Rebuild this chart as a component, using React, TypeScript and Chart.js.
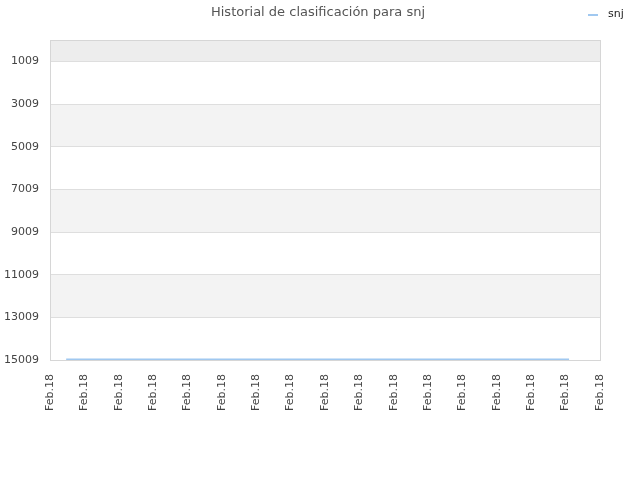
import { useEffect, useRef } from 'react'
import { Chart, registerables } from 'chart.js'

Chart.register(...registerables)

const TITLE = 'Historial de clasificación para snj'
const SERIES_LABEL = 'snj'

// x axis tick labels (one per tick, 0..16)
const xTickLabels = [
  'Feb.18', 'Feb.18', 'Feb.18', 'Feb.18', 'Feb.18', 'Feb.18', 'Feb.18', 'Feb.18', 'Feb.18',
  'Feb.18', 'Feb.18', 'Feb.18', 'Feb.18', 'Feb.18', 'Feb.18', 'Feb.18', 'Feb.18',
]

// y axis ticks (ranking, reversed)
const yTickValues = [1009, 3009, 5009, 7009, 9009, 11009, 13009, 15009]
const yMin = 1
const yMax = 15009

// series: position along the x axis (in tick units) and ranking
const pointX = [0.47, 3, 6, 9, 12, 15.1]
const rankValues = [14980, 14980, 14980, 14980, 14980, 14980]

const FONT = 'DejaVu Sans'

export default function App() {
  const chartRef = useRef<HTMLCanvasElement>(null)
  const chartInstance = useRef<Chart | null>(null)

  useEffect(() => {
    if (!chartRef.current) return
    if (chartInstance.current) chartInstance.current.destroy()
    const ctx = chartRef.current.getContext('2d')
    if (!ctx) return

    // alternating bands, outline, title and legend
    const decor = {
      id: 'decor',
      beforeDraw(chart: any) {
        const { ctx, chartArea } = chart
        const y = chart.scales.y
        const edges = [yMin, ...yTickValues]
        ctx.save()
        for (let i = 0; i < edges.length - 1; i++) {
          const top = y.getPixelForValue(edges[i])
          const bottom = y.getPixelForValue(edges[i + 1])
          if (i === 0) ctx.fillStyle = '#ededed'
          else if (i % 2 === 0) ctx.fillStyle = '#f3f3f3'
          else ctx.fillStyle = '#ffffff'
          ctx.fillRect(chartArea.left, top, chartArea.right - chartArea.left, bottom - top)
        }
        ctx.restore()
      },
      afterDraw(chart: any) {
        const { ctx, chartArea, width } = chart
        ctx.save()
        ctx.strokeStyle = '#d6d6d6'
        ctx.lineWidth = 1
        ctx.strokeRect(chartArea.left + 0.5, chartArea.top + 0.5, chartArea.right - chartArea.left, chartArea.bottom - chartArea.top)

        ctx.fillStyle = '#555'
        ctx.font = `13px "${FONT}"`
        ctx.textAlign = 'center'
        ctx.textBaseline = 'middle'
        ctx.fillText(TITLE, width / 2 - 2, 13)

        ctx.strokeStyle = '#a0c8f0'
        ctx.lineWidth = 2
        ctx.beginPath()
        ctx.moveTo(588, 15)
        ctx.lineTo(598, 15)
        ctx.stroke()
        ctx.fillStyle = '#222'
        ctx.font = `11px "${FONT}"`
        ctx.textAlign = 'left'
        ctx.fillText(SERIES_LABEL, 608, 14)
        ctx.restore()
      },
    }

    chartInstance.current = new Chart(ctx, {
      type: 'line',
      data: {
        datasets: [
          {
            label: SERIES_LABEL,
            data: pointX.map((x, i) => ({ x, y: rankValues[i] })),
            borderColor: '#a0c8f0',
            backgroundColor: '#a0c8f0',
            borderWidth: 2,
            pointRadius: 0,
            tension: 0,
          },
        ],
      },
      options: {
        animation: false,
        responsive: true,
        maintainAspectRatio: false,
        layout: { padding: { top: 40, right: 40, left: 0, bottom: 0 } },
        plugins: {
          legend: { display: false },
          title: { display: false },
          tooltip: { enabled: false },
        },
        scales: {
          x: {
            type: 'linear',
            min: 0,
            max: xTickLabels.length - 1,
            afterBuildTicks: (scale: any) => {
              scale.ticks = xTickLabels.map((_, i) => ({ value: i }))
            },
            afterFit: (scale: any) => {
              scale.height = 120
            },
            grid: { display: false },
            border: { display: false },
            ticks: {
              autoSkip: false,
              maxRotation: 90,
              minRotation: 90,
              padding: 6,
              color: '#444',
              font: { family: FONT, size: 11 },
              callback: (_v: any, i: number) => xTickLabels[i],
            },
          },
          y: {
            type: 'linear',
            reverse: true,
            min: yMin,
            max: yMax,
            afterBuildTicks: (scale: any) => {
              scale.ticks = yTickValues.map(v => ({ value: v }))
            },
            afterFit: (scale: any) => {
              scale.width = 50
            },
            grid: { color: '#dedede', drawTicks: false },
            border: { display: false },
            ticks: {
              padding: 11,
              color: '#444',
              font: { family: FONT, size: 11 },
              callback: (v: any) => String(v),
            },
          },
        },
      },
      plugins: [decor],
    })

    return () => {
      if (chartInstance.current) {
        chartInstance.current.destroy()
        chartInstance.current = null
      }
    }
  }, [])

  return (
    <div style={{ position: 'fixed', left: 0, top: 0, width: 640, height: 480, background: '#fff' }}>
      <canvas ref={chartRef} />
    </div>
  )
}
